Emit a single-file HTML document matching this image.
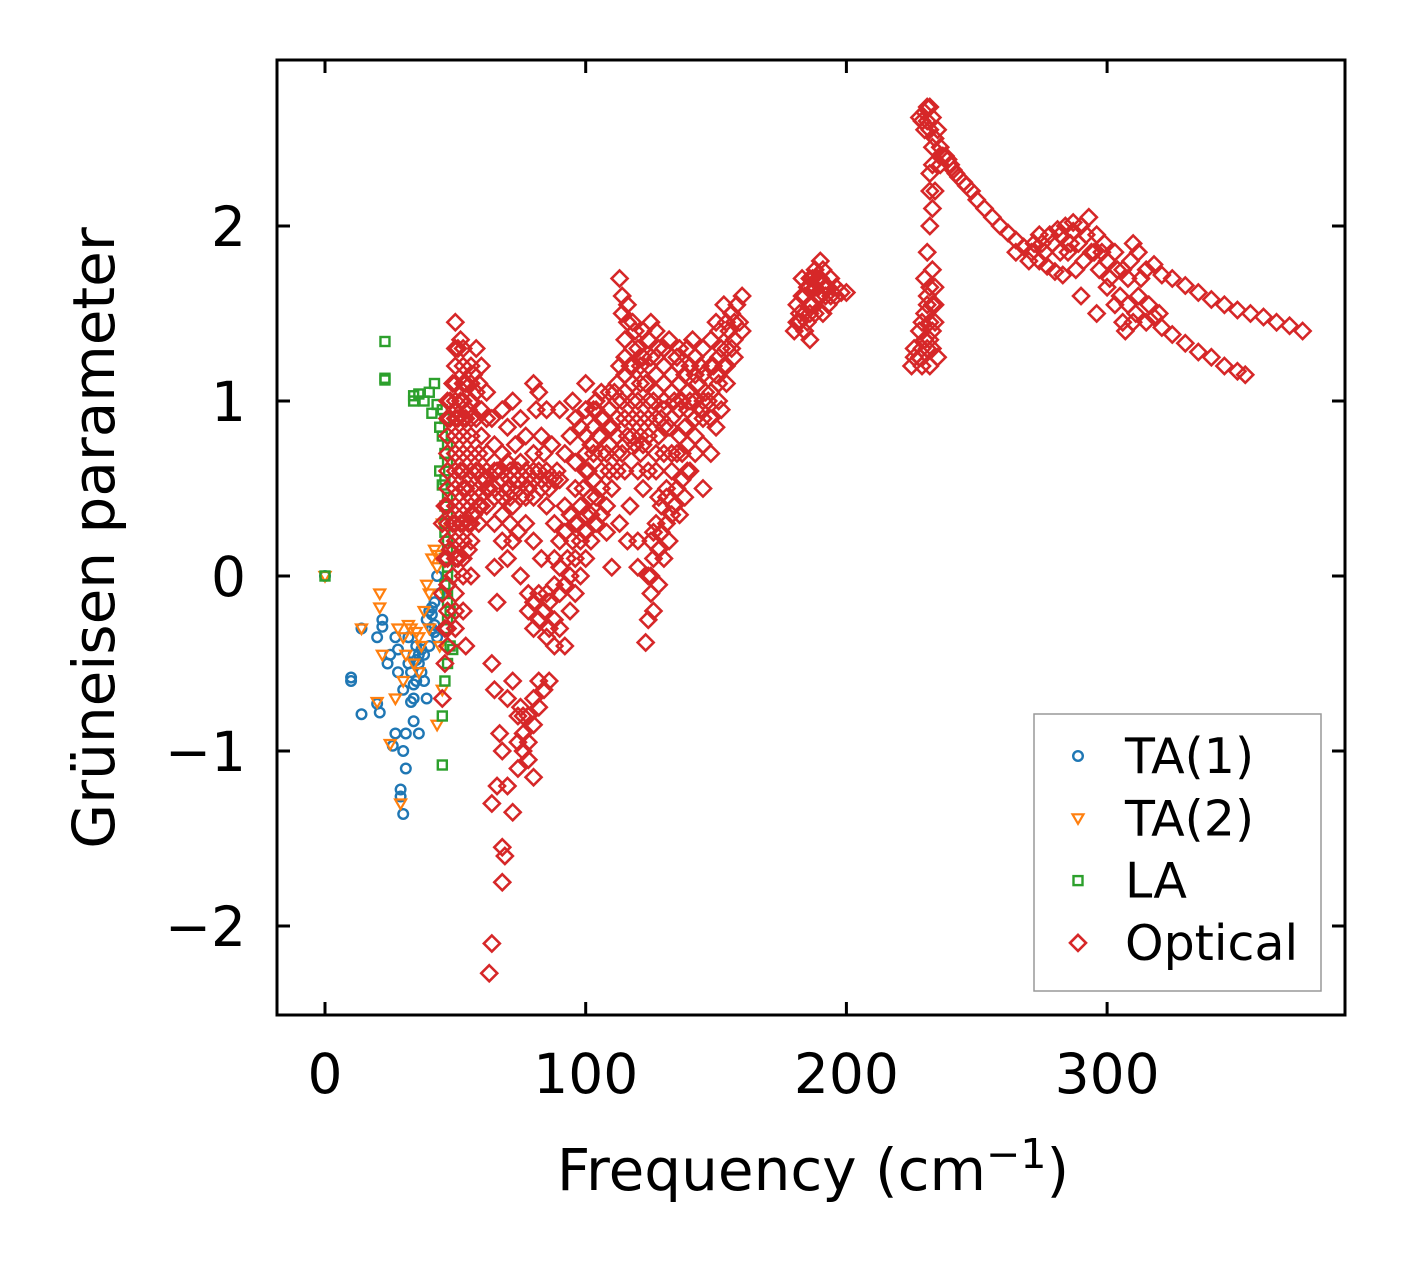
<!DOCTYPE html>
<html><head><meta charset="utf-8"><style>
body{margin:0;background:#fff;}
svg text{font-family:"DejaVu Sans","Liberation Sans",sans-serif;fill:#000;}
</style></head><body>
<svg id="chart" width="1406" height="1264" viewBox="0 0 1406 1264" xmlns="http://www.w3.org/2000/svg">
<rect x="0" y="0" width="1406" height="1264" fill="#fff"/>
<g id="marks"></g>
<g id="axes"></g>
</svg>
<script>
const xTicks=[0,100,200,300];
const yTicks=[-2,-1,0,1,2];
const seriesNames=["TA(1)","TA(2)","LA","Optical"];
const ta1=[[0,0],[10,-0.6],[10,-0.58],[14,-0.3],[14,-0.79],[20,-0.73],[20,-0.35],[21,-0.78],[22,-0.25],[22,-0.29],[24,-0.5],[25,-0.45],[26,-0.97],[27,-0.9],[27,-0.35],[28,-0.42],[28,-0.55],[29,-1.22],[29,-1.26],[30,-1.36],[30,-1.0],[30,-0.65],[31,-1.1],[31,-0.9],[32,-0.5],[33,-0.72],[34,-0.45],[34,-0.83],[35,-0.4],[36,-0.9],[36,-0.5],[37,-0.55],[38,-0.6],[38,-0.45],[39,-0.7],[40,-0.4],[40,-0.2],[41,-0.3],[42,-0.15],[43,-0.35],[43,0.0],[44,-0.1],[35,-0.6],[33,-0.55],[32,-0.35],[41,-0.18],[42,-0.28],[36,-0.45],[34,-0.7],[35,-0.48],[37,-0.42],[39,-0.25],[41,-0.22],[42,-0.32],[34,-0.62]];
const ta2=[[0,0],[14,-0.3],[20,-0.72],[21,-0.1],[21,-0.18],[22,-0.45],[25,-0.96],[27,-0.7],[28,-0.3],[29,-1.3],[30,-0.6],[31,-0.45],[33,-0.3],[35,-0.32],[36,-0.55],[38,-0.2],[39,-0.05],[40,-0.3],[41,0.1],[42,0.15],[43,-0.85],[43,0.05],[44,-0.4],[45,-0.65],[45,0.3],[46,-0.1],[34,-0.5],[37,-0.4],[30,-0.35],[40,-0.1],[32,-0.28],[36,-0.35],[43,0.12]];
const la=[[0,0],[23,1.34],[23,1.13],[23,1.12],[34,1.03],[34,1.0],[36,1.04],[38,1.0],[40,1.05],[41,0.93],[42,1.1],[43,0.98],[44,0.85],[45,0.95],[45,0.8],[46,0.7],[46,0.55],[45,0.52],[47,0.45],[46,0.3],[47,0.2],[46,0.1],[47,-0.1],[48,-0.2],[46,-0.3],[48,-0.4],[47,-0.5],[49,-0.42],[45,-0.8],[45,-1.08],[47,0.65],[44,0.6],[47,0.0],[46,0.9],[47,0.75],[46,-0.05],[47,-0.25],[46,0.4],[47,0.35],[46,0.25],[47,0.15],[47,0.05],[47,-0.15],[46,-0.6]];
const optical=[[45,-0.7],[46,-0.5],[46,-0.3],[45,-0.1],[46,0.1],[45,0.3],[46,0.4],[47,0.6],[47,0.8],[48,1.0],[49,1.1],[50,1.2],[51,1.3],[50,1.45],[52,1.35],[53,1.2],[52,1.0],[53,0.8],[52,0.6],[50,0.5],[49,0.3],[48,0.15],[47,-0.05],[48,0.9],[51,0.9],[54,1.1],[55,0.95],[56,0.7],[57,1.15],[58,1.3],[60,1.2],[62,1.05],[64,0.9],[60,0.8],[58,0.6],[56,0.45],[55,0.3],[60,0.4],[65,0.45],[70,0.5],[72,0.4],[75,0.45],[78,0.5],[80,0.55],[82,0.6],[85,0.6],[88,0.55],[66,0.6],[68,0.7],[70,0.65],[73,0.75],[75,0.65],[77,0.8],[80,0.7],[83,0.8],[85,0.95],[90,0.95],[95,1.0],[100,0.95],[75,0.9],[72,1.0],[68,0.95],[65,0.3],[68,0.2],[70,0.1],[72,0.2],[75,0.0],[78,-0.2],[80,-0.15],[82,-0.25],[85,-0.35],[88,-0.4],[90,-0.3],[92,-0.4],[64,-0.5],[65,-0.65],[67,-0.9],[68,-1.0],[66,-1.2],[64,-1.3],[68,-1.55],[69,-1.6],[68,-1.75],[64,-2.1],[63,-2.27],[70,-1.2],[72,-1.35],[74,-1.1],[76,-0.9],[78,-0.8],[80,-0.7],[82,-0.6],[84,-0.65],[86,-0.6],[72,-0.6],[75,-0.75],[74,-0.95],[78,-1.05],[80,-1.15],[70,-0.7],[66,-0.15],[65,0.05],[85,-0.1],[88,-0.05],[90,0.05],[93,0.1],[95,0.2],[97,0.3],[99,0.5],[101,0.6],[103,0.7],[105,0.8],[107,0.9],[109,0.95],[111,1.05],[113,1.2],[115,1.35],[114,1.6],[113,1.7],[116,1.55],[118,1.45],[120,1.3],[122,1.4],[125,1.45],[128,1.3],[130,1.2],[132,1.35],[135,1.25],[138,1.15],[140,1.2],[143,1.1],[145,1.3],[148,1.35],[150,1.45],[152,1.3],[155,1.4],[158,1.55],[160,1.4],[157,1.25],[154,1.1],[152,0.95],[150,0.85],[148,0.7],[145,0.75],[142,0.9],[140,1.0],[138,0.85],[135,0.7],[133,0.6],[131,0.5],[129,0.4],[127,0.3],[125,0.2],[124,0.0],[125,-0.1],[124,-0.25],[123,-0.38],[126,0.1],[128,0.45],[130,0.7],[132,0.85],[134,1.0],[136,1.1],[120,1.0],[118,0.9],[116,0.8],[114,0.7],[112,0.6],[110,0.5],[108,0.4],[106,0.35],[104,0.3],[102,0.2],[100,0.1],[98,0.0],[96,-0.1],[94,-0.2],[110,0.05],[108,0.25],[112,0.8],[122,0.75],[124,0.9],[126,1.0],[128,0.8],[118,1.1],[120,0.6],[122,0.5],[140,0.6],[138,0.45],[136,0.35],[142,0.7],[144,0.95],[146,1.05],[150,1.15],[130,1.0],[127,1.15],[60,0.95],[62,0.7],[58,0.9],[56,1.1],[54,0.5],[52,0.3],[85,0.4],[88,0.3],[90,0.55],[92,0.7],[94,0.8],[96,0.9],[98,0.85],[102,0.75],[104,0.95],[106,1.05],[108,0.7],[110,0.85],[80,1.1],[82,1.05],[81,0.95],[70,0.85],[100,1.1],[104,1.0],[160,1.6],[156,1.5],[153,1.55],[145,0.5],[137,0.55],[134,0.4],[131,0.3],[115,0.6],[117,0.4],[116,0.2],[113,0.3],[120,0.2],[120,0.05],[90,-0.1],[86,-0.15],[83,0.1],[80,0.2],[77,0.3],[74,0.25],[71,0.3],[68,0.35],[54,-0.4],[50,-0.2],[49,0.0],[47,-0.4],[51,0.1],[53,0.0],[55,0.15],[57,0.35],[59,0.5],[61,0.55],[63,0.5],[50,0.7],[54,0.9],[58,1.05],[114,1.0],[117,1.2],[119,0.75],[121,0.9],[123,1.1],[125,1.25],[127,0.6],[129,0.9],[133,1.15],[137,1.0],[139,1.3],[141,1.35],[144,1.2],[147,1.0],[149,1.2],[153,1.2],[156,1.3],[159,1.45],[132,0.2],[130,0.1],[128,-0.05],[106,0.6],[102,0.45],[100,0.35],[96,0.5],[92,0.4],[96,0.65],
[47,-0.3],[47,-0.2],[47,0.1],[47,0.2],[47,0.3],[47,0.4],[47,0.5],[47,0.7],[47,0.9],[47,1.0],[50,-0.3],[50,-0.1],[50,0.1],[50,0.2],[50,0.3],[50,0.4],[50,0.6],[50,0.8],[50,0.9],[50,1.0],[50,1.1],[50,1.3],[53,-0.2],[53,0.1],[53,0.2],[53,0.3],[53,0.4],[53,0.5],[53,0.6],[53,0.7],[53,0.9],[53,1.0],[53,1.1],[53,1.3],[56,0.0],[56,0.2],[56,0.3],[56,0.4],[56,0.5],[56,0.6],[56,0.8],[56,0.9],[56,1.0],[56,1.2],[59,0.3],[59,0.4],[59,0.6],[59,0.7],[59,1.1],[62,0.4],[62,0.5],[62,0.6],[62,0.9],[65,0.5],[65,0.6],[65,0.75],[68,0.45],[68,0.55],[68,0.6],[71,0.45],[71,0.55],[71,0.6],[74,0.5],[74,0.55],[74,0.6],[77,0.45],[77,0.55],[77,0.6],[80,0.45],[80,0.6],[83,0.5],[83,0.55],[86,0.5],[86,0.55],[89,0.6],[84,0.7],[87,0.75],
[100,0.8],[100,0.7],[100,0.6],[103,0.85],[103,0.95],[103,0.55],[106,0.7],[106,0.9],[106,0.5],[109,0.6],[109,0.75],[109,0.85],[109,1.05],[112,0.7],[112,0.9],[112,1.0],[112,1.1],[115,0.75],[115,0.9],[115,1.05],[115,1.15],[115,1.25],[118,0.8],[118,1.0],[118,1.2],[118,1.3],[121,0.7],[121,0.8],[121,1.1],[121,1.2],[124,0.6],[124,0.8],[124,1.0],[124,1.2],[124,1.35],[127,0.7],[127,0.9],[127,1.05],[127,1.25],[127,1.4],[130,0.85],[130,0.95],[130,1.1],[130,1.3],[133,0.7],[133,0.9],[133,1.05],[133,1.25],[136,0.8],[136,0.95],[136,1.2],[136,1.3],[139,0.75],[139,0.95],[139,1.05],[142,0.8],[142,1.0],[142,1.15],[142,1.25],[145,0.9],[145,1.0],[145,1.15],[148,0.9],[148,1.05],[148,1.2],[151,1.0],[151,1.1],[151,1.25],[151,1.4],[154,1.2],[154,1.3],[154,1.45],[157,1.35],[157,1.45],[119,1.4],[122,1.25],[116,1.45],[114,1.5],
[88,0.1],[90,0.2],[92,0.25],[94,0.35],[96,0.3],[98,0.4],[98,0.2],[100,0.25],[102,0.35],[104,0.45],[92,-0.05],[94,0.0],[96,0.1],[126,-0.2],[125,0.0],[126,0.25],[128,0.15],[129,0.25],[131,0.45],[133,0.35],[135,0.5],[137,0.7],[139,0.6],[78,-0.1],[80,-0.3],[82,-0.1],[84,-0.2],[86,-0.3],[88,-0.25],[76,-0.8],[78,-0.95],[80,-0.85],[82,-0.75],[76,-1.0],[74,-0.8],
[182,1.45],[184,1.5],[186,1.55],[188,1.65],[190,1.6],[192,1.6],[194,1.6],[196,1.6],[185,1.65],[187,1.7],[189,1.7],[191,1.75],[193,1.65],[183,1.6],[181,1.45],[184,1.4],[186,1.5],[188,1.5],
[226,1.25],[229,1.3],[231,1.3],[233,1.4],[234,1.45],[230,1.5],[231,1.55],[232,1.65],[234,1.55],[232,1.35],[229,1.2],[231,2.6],[232,2.55],[234,2.5],[233,2.35],[232,2.2],[229,2.6],[230,2.65],[232,2.68],[237,2.4],[239,2.38],[241,2.32],[243,2.28],[246,2.23],[272,1.9],[274,1.95],[276,1.85],[279,1.9],[282,1.85],[286,1.9],[289,1.9],[292,1.95],[295,1.85],[298,1.85],[282,1.95],[287,2.02],[301,1.7],[304,1.75],[308,1.7],[312,1.6],[316,1.55],[303,1.55],[306,1.45],[320,1.5],[310,1.45],
[180,1.4],[182,1.5],[184,1.6],[186,1.7],[188,1.75],[190,1.7],[192,1.65],[194,1.7],[196,1.65],[198,1.62],[200,1.62],[185,1.45],[187,1.55],[189,1.6],[191,1.5],[193,1.55],[183,1.7],[181,1.55],[190,1.8],[186,1.35],
[225,1.2],[228,1.25],[230,1.35],[232,1.45],[233,1.55],[234,1.65],[231,1.6],[230,1.7],[233,1.3],[235,1.25],[229,1.45],[232,1.2],[231,1.85],[232,2.0],[233,2.1],[234,2.2],[232,2.3],[233,2.45],[230,2.55],[228,2.62],[231,2.68],[233,2.62],[235,2.55],[236,2.45],[238,2.4],[240,2.35],[242,2.3],[245,2.25],[248,2.2],[250,2.15],[253,2.1],[256,2.05],[259,2.0],[262,1.96],[265,1.92],[268,1.88],[271,1.85],[274,1.8],[277,1.77],[280,1.74],[283,1.72],[275,1.9],[278,1.95],[281,1.98],[284,2.0],[287,1.97],[290,2.0],[293,2.05],[296,1.95],[299,1.9],[285,1.85],[288,1.75],[291,1.8],[294,1.85],[297,1.75],[300,1.8],[303,1.85],[306,1.75],[309,1.8],[312,1.85],[315,1.75],[318,1.78],[321,1.72],[325,1.7],[330,1.66],[335,1.62],[340,1.58],[345,1.55],[350,1.52],[355,1.5],[360,1.48],[365,1.45],[370,1.43],[375,1.4],[300,1.65],[305,1.6],[308,1.55],[311,1.5],[315,1.45],[318,1.48],[321,1.42],[325,1.38],[330,1.33],[335,1.28],[340,1.25],[345,1.2],[350,1.17],[353,1.15],[310,1.9],[313,1.7],[307,1.4],[290,1.6],[296,1.5],[265,1.85],[270,1.8],[236,2.35],[233,1.75],[228,1.4],[226,1.3]];

const X0=325,XS=2.607,Y0=576,YS=175;
const xs=v=>X0+v*XS, ys=v=>Y0-v*YS;
const NS="http://www.w3.org/2000/svg";
const marks=document.getElementById('marks'), axes=document.getElementById('axes');
function mk(tag,attrs,parent){const e=document.createElementNS(NS,tag);for(const k in attrs)e.setAttribute(k,attrs[k]);parent.appendChild(e);return e;}
function marker(kind,cx,cy,color,parent){
  let e;
  if(kind==='circle') e=mk('circle',{cx:cx,cy:cy,r:4.8,fill:'none',stroke:color,'stroke-width':2.4},parent);
  else if(kind==='tri') e=mk('polygon',{points:`${cx-5.5},${cy-4} ${cx+5.5},${cy-4} ${cx},${cy+5.5}`,fill:'none',stroke:color,'stroke-width':2.2},parent);
  else if(kind==='square') e=mk('rect',{x:cx-4.5,y:cy-4.5,width:9,height:9,fill:'none',stroke:color,'stroke-width':2.4},parent);
  else e=mk('polygon',{points:`${cx},${cy-8} ${cx+8},${cy} ${cx},${cy+8} ${cx-8},${cy}`,fill:'none',stroke:color,'stroke-width':2.6},parent);
  return e;
}
const defs=[[ta1,'circle','#1f77b4'],[ta2,'tri','#ff7f0e'],[la,'square','#2ca02c'],[optical,'diamond','#d62728']];
defs.forEach((d,i)=>{
  const g=mk('g',{},marks);
  
  
  d[0].forEach(p=>{
    const m=marker(d[1],xs(p[0]),ys(p[1]),d[2],g);
    
    
  });
});
const frame=mk('rect',{x:277,y:60,width:1068,height:955,fill:'none',stroke:'#000','stroke-width':3},axes);


xTicks.forEach(t=>{
  const x=xs(t);
  mk('line',{x1:x,y1:1015,x2:x,y2:1002,stroke:'#000','stroke-width':3},axes);
  mk('line',{x1:x,y1:60,x2:x,y2:73,stroke:'#000','stroke-width':3},axes);
  const tx=mk('text',{x:x,y:1093,'font-size':55,'text-anchor':'middle'},axes);
  tx.textContent=t;
  
  
});
yTicks.forEach(t=>{
  const y=ys(t);
  mk('line',{x1:277,y1:y,x2:290,y2:y,stroke:'#000','stroke-width':3},axes);
  mk('line',{x1:1345,y1:y,x2:1332,y2:y,stroke:'#000','stroke-width':3},axes);
  const tx=mk('text',{x:246,y:y+20,'font-size':55,'text-anchor':'end'},axes);
  tx.textContent=t<0?'\u2212'+Math.abs(t):String(t);
  
  
});
const xl=mk('text',{x:813,y:1190,'font-size':58,'text-anchor':'middle'},axes);
xl.innerHTML='Frequency (cm<tspan dy="-22" font-size="41">\u22121</tspan><tspan dy="22">)</tspan>';


const yl=mk('text',{x:0,y:0,'font-size':58,'text-anchor':'middle',transform:'translate(114,538) rotate(-90)'},axes);
yl.textContent='Grüneisen parameter';


const lg=mk('g',{},axes);


mk('rect',{x:1034,y:714,width:287,height:277,fill:'#fff',stroke:'#999','stroke-width':1.5},lg);
defs.forEach((d,i)=>{
  const y=756+i*62.3;
  const eg=mk('g',{},lg);
  
  
  marker(d[1],1078,y,d[2],eg);
  const t=mk('text',{x:1125,y:y+17,'font-size':49},eg);
  t.textContent=seriesNames[i];
});
</script>
</body></html>
